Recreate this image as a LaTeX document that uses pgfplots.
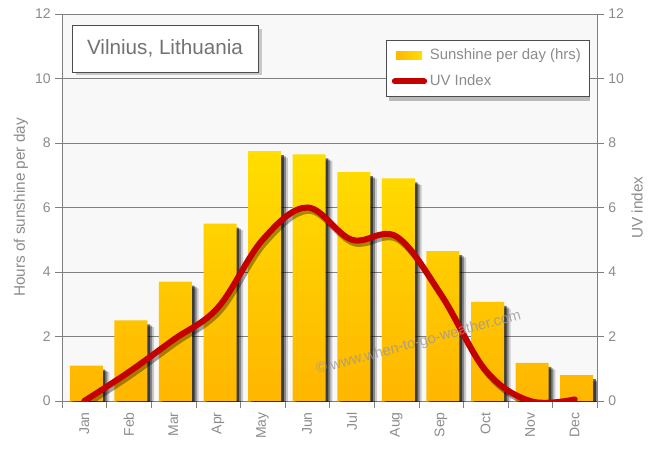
\documentclass[border=0pt]{standalone}
\usepackage{fontspec}
\setmainfont{Liberation Sans}
\usepackage{pgfplots}
\pgfplotsset{compat=1.18}
\usetikzlibrary{shadows}

\definecolor{txtgray}{RGB}{140,140,140}
\definecolor{axgray}{RGB}{128,128,128}
\definecolor{bgplot}{RGB}{248,248,248}
\definecolor{sunlight}{RGB}{255,222,0}
\definecolor{sundark}{RGB}{255,182,0}
\definecolor{uvred}{RGB}{196,0,0}

% hours of sunshine per day
\pgfplotstableread{
m sun
1 1.1
2 2.5
3 3.7
4 5.5
5 7.75
6 7.65
7 7.1
8 6.9
9 4.65
10 3.07
11 1.18
12 0.8
}\sundata

% UV index
\pgfplotstableread{
m uv
1 0
2 0.9
3 1.9
4 2.9
5 5.0
6 6.0
7 5.0
8 5.1
9 3.3
10 0.95
11 0
12 0.05
}\uvdata

\begin{document}
\begin{tikzpicture}
\path[use as bounding box, fill=white] (0,0) rectangle (487.5pt,337.5pt);

\begin{axis}[
  at={(46.5pt,36.75pt)}, anchor=origin,
  scale only axis, width=401.25pt, height=290.25pt,
  xmin=0.5, xmax=12.5, ymin=0, ymax=12,
  axis background/.style={fill=bgplot},
  axis line style={axgray},
  axis x line*=bottom, axis y line*=left,
  xtick={1,...,12},
  xticklabels={Jan,Feb,Mar,Apr,May,Jun,Jul,Aug,Sep,Oct,Nov,Dec},
  major x tick style={draw=none},
  minor xtick={0.5,1.5,...,12.5},
  minor tick length=5pt,
  xtick align=outside,
  ytick={0,2,...,12},
  ytick align=outside, major tick length=5pt,
  tick style={axgray},
  ymajorgrids, grid style={axgray, line width=0.6pt},
  ticklabel style={font=\fontsize{10.5}{12}\selectfont, text=txtgray},
  yticklabel style={/pgf/number format/assume math mode=true},
  xticklabel style={rotate=90, anchor=east},
  ylabel={Hours of sunshine per day},
  ylabel style={at={(axis description cs:-0.077,0.5)}, anchor=center,
    font=\fontsize{11.5}{13}\selectfont, text=txtgray},
  legend style={at={(0.606,0.933)}, anchor=north west,
    draw=black!70, fill=white,
    font=\fontsize{11.2}{13}\selectfont, text=txtgray,
    row sep=6pt, inner xsep=4pt, inner ysep=4.5pt},
  legend cell align=left,
  clip=true,
]
% top frame line
\draw[axgray] (rel axis cs:0,1) -- (rel axis cs:1,1);

% legend shadow
\fill[black, opacity=0.25] (rel axis cs:0.612,0.925) rectangle (rel axis cs:0.986,0.776);

% bar shadows
\addplot[ybar, bar width=24.75pt, bar shift=6.5pt, yshift=-5pt, draw=none,
  fill=black, fill opacity=0.18, forget plot] table[x=m,y=sun] {\sundata};
\addplot[ybar, bar width=24.75pt, bar shift=5pt, yshift=-4pt, draw=none,
  fill=black, fill opacity=0.35, forget plot] table[x=m,y=sun] {\sundata};
\addplot[ybar, bar width=24.75pt, bar shift=3.5pt, yshift=-3pt, draw=none,
  fill=black, fill opacity=0.55, forget plot] table[x=m,y=sun] {\sundata};

% bars
\addplot[ybar, bar width=24.75pt, bar shift=1.5pt, draw=none, top color=sunlight, bottom color=sundark,
  legend image code/.code={\fill[left color=sundark, right color=sunlight] (0pt,-3pt) rectangle (19.5pt,3pt);}]
  table[x=m,y=sun] {\sundata};
\addlegendentry{Sunshine per day (hrs)}

% UV line shadow and line
\addplot[smooth, tension=0.6, line width=4.5pt, black, opacity=0.35, xshift=1.5pt, yshift=-2.5pt, forget plot]
  table[x=m,y=uv] {\uvdata};
\addplot[smooth, tension=0.6, line width=4.5pt, uvred, line cap=round,
  legend image code/.code={\draw[line width=4.5pt, uvred, line cap=round] (-1pt,0pt) -- (21pt,0pt);}]
  table[x=m,y=uv] {\uvdata};
\addlegendentry{UV Index}

% title box
\node[draw=black!70, fill=white, drop shadow={opacity=0.4},
  minimum width=139.5pt, minimum height=35pt, text=black!55,
  font=\fontsize{15.5}{18}\selectfont] at (axis cs:2.81,10.93) {Vilnius, Lithuania};

% watermark
\node[rotate=15, text=black!40, opacity=0.8, font=\fontsize{11}{13}\selectfont]
  at (axis cs:8.5,1.8) {© www.when-to-go-weather.com};
\end{axis}

\begin{axis}[
  at={(46.5pt,36.75pt)}, anchor=origin,
  scale only axis, width=401.25pt, height=290.25pt,
  xmin=0.5, xmax=12.5, ymin=0, ymax=12,
  hide x axis,
  axis y line*=right,
  axis line style={axgray},
  ytick={0,2,...,12},
  ytick align=outside, major tick length=5pt,
  tick style={axgray},
  ticklabel style={font=\fontsize{10.5}{12}\selectfont, text=txtgray},
  yticklabel style={/pgf/number format/assume math mode=true},
  ylabel={UV index},
  ylabel style={at={(axis description cs:1.075,0.5)}, anchor=center, rotate=0,
    font=\fontsize{11.5}{13}\selectfont, text=txtgray},
]
\addplot[draw=none] coordinates {(1,0)};
\end{axis}
\end{tikzpicture}
\end{document}
